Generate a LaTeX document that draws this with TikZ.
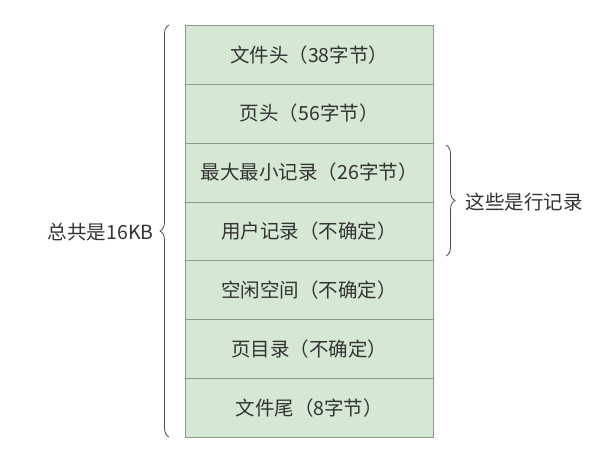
\documentclass[tikz,border=0pt]{standalone}
\usepackage{fontspec}
\setmainfont{Noto Sans CJK SC}
\usetikzlibrary{decorations.pathreplacing}
\definecolor{boxfill}{HTML}{D5E8D4}
\definecolor{boxline}{HTML}{8A9A88}
\begin{document}
\begin{tikzpicture}[x=1pt,y=-1pt,
  cell/.style={draw=boxline,fill=boxfill,minimum width=248pt,minimum height=58.86pt,anchor=north west,inner sep=0pt,font=\fontsize{19.5}{22}\selectfont,text=black!80},
  brc/.style={draw=black!70,line width=0.8pt,decorate,decoration={brace,amplitude=9pt}},
  lbl/.style={font=\fontsize{19.5}{22}\selectfont,text=black!80}]
\useasboundingbox (0,0) rectangle (613,453);
\foreach \t [count=\i from 0] in {文件头（38字节）,页头（56字节）,最大最小记录（26字节）,用户记录（不确定）,空闲空间（不确定）,页目录（不确定）,文件尾（8字节）}
  \node[cell] (c\i) at (185,{25+\i*58.86}) {\t};
\coordinate (lb) at (169,437);
\coordinate (lt) at (169,25);
\draw[brc] (lb) -- (lt);
\node[lbl,anchor=east] (total) at (157,232) {总共是16KB};
\coordinate (rt) at (446,145);
\coordinate (rb) at (446,256);
\draw[brc] (rt) -- (rb);
\node[lbl,anchor=west] (rows) at (462,202) {这些是行记录};
\end{tikzpicture}
\end{document}
